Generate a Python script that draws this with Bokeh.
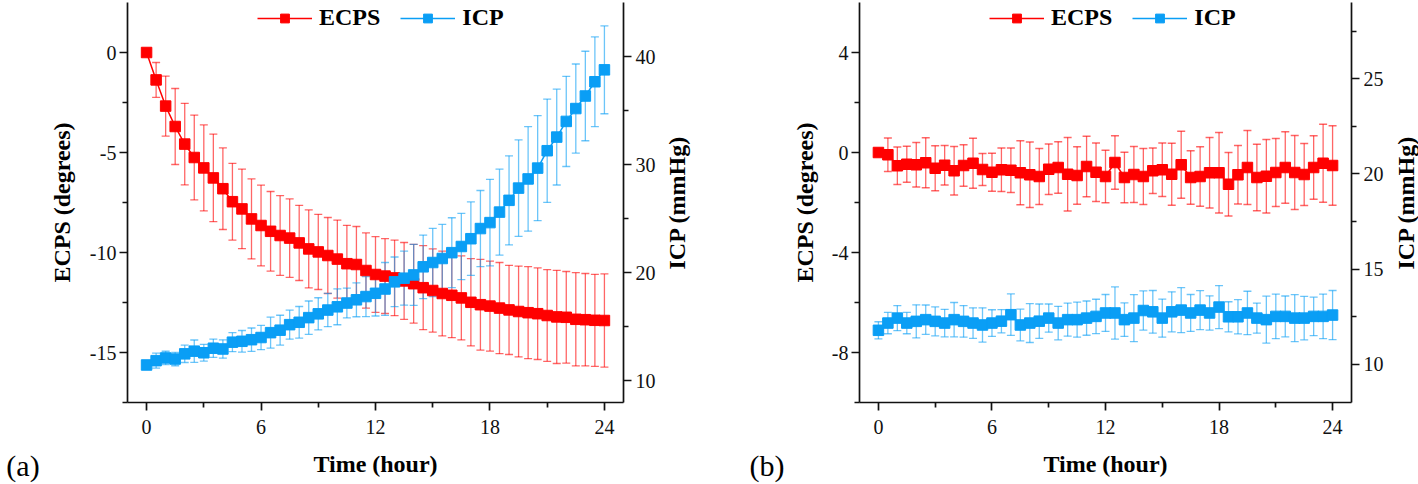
from bokeh.plotting import figure
from bokeh.models import (Range1d, LinearAxis, FixedTicker, Whisker, TeeHead,
                          ColumnDataSource, Legend, LegendItem)
from bokeh.layouts import row
from bokeh.embed import file_html
from bokeh.resources import INLINE

# ---------------- data ----------------
hours = [0, 0.5, 1, 1.5, 2, 2.5, 3, 3.5, 4, 4.5, 5, 5.5, 6, 6.5, 7, 7.5, 8, 8.5,
         9, 9.5, 10, 10.5, 11, 11.5, 12, 12.5, 13, 13.5, 14, 14.5, 15, 15.5,
         16, 16.5, 17, 17.5, 18, 18.5, 19, 19.5, 20, 20.5, 21, 21.5, 22, 22.5,
         23, 23.5, 24]

# panel (a)
ecps_a = [0.0, -1.37, -2.68, -3.70, -4.58, -5.25, -5.77, -6.27, -6.81, -7.46,
          -7.82, -8.32, -8.65, -8.94, -9.15, -9.28, -9.52, -9.82, -9.97, -10.15,
          -10.33, -10.56, -10.60, -10.90, -11.10, -11.18, -11.27, -11.42, -11.56,
          -11.76, -11.90, -12.05, -12.14, -12.27, -12.49, -12.61, -12.68, -12.78,
          -12.87, -12.95, -13.01, -13.06, -13.15, -13.22, -13.24, -13.34, -13.36,
          -13.39, -13.40]
ecps_a_err = [0.0, 0.87, 1.50, 1.90, 2.04, 2.12, 2.15, 2.19, 2.04, 1.92, 1.99,
              2.00, 2.02, 1.99, 1.99, 1.96, 1.88, 1.95, 1.88, 1.90, 1.95, 1.92,
              1.90, 1.88, 1.89, 1.87, 1.89, 1.92, 1.97, 2.10, 2.08, 2.12, 2.12,
              2.10, 2.18, 2.27, 2.25, 2.28, 2.23, 2.27, 2.30, 2.29, 2.29, 2.33,
              2.29, 2.33, 2.31, 2.30, 2.33]
icp_a = [11.47, 11.87, 12.12, 12.02, 12.50, 12.75, 12.60, 13.02, 12.95, 13.58,
         13.66, 13.81, 14.01, 14.46, 14.69, 15.20, 15.42, 15.85, 16.20, 16.55,
         16.85, 17.20, 17.50, 17.80, 18.10, 18.50, 19.16, 19.50, 19.80, 20.55,
         20.95, 21.32, 21.86, 22.43, 23.15, 24.09, 24.64, 25.61, 26.70, 27.83,
         28.68, 29.68, 31.29, 32.55, 34.00, 35.19, 36.35, 37.67, 38.77]
icp_a_err = [0.40, 0.69, 0.62, 0.62, 0.80, 1.03, 0.77, 0.85, 0.85, 0.88, 1.00,
             1.08, 1.12, 1.43, 1.38, 1.34, 1.46, 1.54, 1.49, 1.54, 1.66, 1.38,
             1.57, 1.85, 2.10, 2.45, 2.30, 2.50, 2.82, 2.94, 3.15, 3.15, 3.23,
             3.06, 3.40, 3.52, 4.00, 3.97, 4.12, 4.46, 4.83, 4.86, 4.78, 4.43,
             4.17, 4.12, 4.14, 4.15, 4.06]

# panel (b)
ecps_b = [0.0, -0.09, -0.53, -0.47, -0.49, -0.41, -0.63, -0.51, -0.73, -0.52,
          -0.43, -0.68, -0.79, -0.69, -0.71, -0.81, -0.89, -0.96, -0.67, -0.60,
          -0.87, -0.92, -0.56, -0.79, -0.96, -0.40, -1.00, -0.88, -0.96, -0.73,
          -0.69, -0.87, -0.49, -1.00, -0.96, -0.81, -0.81, -1.27, -0.89, -0.60,
          -1.00, -0.95, -0.80, -0.60, -0.80, -0.88, -0.60, -0.43, -0.52]
ecps_b_err = [0.0, 0.67, 0.75, 0.72, 0.89, 1.00, 0.90, 0.79, 0.97, 0.83, 1.00,
              0.64, 0.76, 0.87, 0.89, 1.28, 1.31, 1.12, 1.01, 1.03, 1.47, 1.15,
              1.21, 1.17, 1.05, 1.07, 1.01, 1.12, 1.12, 0.91, 1.07, 1.24, 1.34,
              1.07, 1.19, 1.41, 1.61, 1.27, 1.17, 1.48, 1.33, 1.47, 1.36, 1.43,
              1.48, 1.24, 1.27, 1.56, 1.59]
icp_b = [11.79, 12.17, 12.43, 12.17, 12.26, 12.35, 12.26, 12.17, 12.35, 12.26,
         12.17, 12.07, 12.17, 12.27, 12.61, 12.07, 12.17, 12.27, 12.43, 12.17,
         12.35, 12.35, 12.43, 12.52, 12.70, 12.70, 12.35, 12.43, 12.83, 12.76,
         12.43, 12.76, 12.85, 12.70, 12.85, 12.70, 13.01, 12.50, 12.50, 12.70,
         12.43, 12.35, 12.52, 12.52, 12.43, 12.43, 12.52, 12.52, 12.59]
icp_b_err = [0.45, 0.56, 0.66, 0.56, 0.87, 0.77, 0.76, 0.72, 0.90, 0.83, 0.80,
             0.90, 0.70, 0.61, 1.09, 0.83, 1.02, 0.90, 0.74, 0.88, 0.87, 0.92,
             0.90, 0.90, 0.97, 1.37, 0.88, 1.23, 1.03, 1.12, 1.00, 1.05, 1.18,
             0.97, 1.02, 0.90, 1.13, 0.79, 0.90, 1.14, 0.79, 1.23, 1.17, 1.07,
             1.23, 1.14, 1.01, 1.17, 1.29]

x_ticks = [0, 6, 12, 18, 24]
x_minor = [3, 9, 15, 21]

# ---------------- style ----------------
FONT = "Liberation Serif"
RED = "#FF0000"
BLUE = "#0A9EF5"
AXC = "#111111"
H = 484
TOP, BOTTOM = 2, 81


def style_axis(ax, ticks, minor, standoff):
    ax.ticker = FixedTicker(ticks=ticks, minor_ticks=minor)
    ax.major_label_overrides = {t: ("%g" % t) for t in ticks}
    ax.axis_line_color = AXC
    ax.axis_line_width = 1.7
    ax.major_tick_line_color = AXC
    ax.major_tick_line_width = 1.7
    ax.minor_tick_line_color = AXC
    ax.minor_tick_line_width = 1.7
    ax.major_tick_in = 0
    ax.major_tick_out = 8
    ax.minor_tick_in = 0
    ax.minor_tick_out = 5
    ax.major_label_text_font = FONT
    ax.major_label_text_font_size = "20px"
    ax.major_label_text_color = "#111111"
    ax.major_label_standoff = standoff
    ax.axis_label_text_font = FONT
    ax.axis_label_text_font_style = "bold"
    ax.axis_label_text_font_size = "24px"
    ax.axis_label_text_color = "#000000"


def label_only_axis(ax, text, size, style, standoff):
    ax.ticker = FixedTicker(ticks=[], minor_ticks=[])
    ax.axis_line_color = None
    ax.major_tick_line_color = None
    ax.minor_tick_line_color = None
    ax.major_tick_out = 0
    ax.minor_tick_out = 0
    ax.major_label_standoff = 0
    ax.axis_label = text
    ax.axis_label_text_font = FONT
    ax.axis_label_text_font_size = size
    ax.axis_label_text_font_style = style
    ax.axis_label_text_color = "#000000"
    ax.axis_label_standoff = standoff


def add_series(p, y, err, color, range_name):
    src = ColumnDataSource(dict(t=hours, y=y,
                                up=[a + b for a, b in zip(y, err)],
                                lo=[a - b for a, b in zip(y, err)]))
    kw = {} if range_name is None else {"y_range_name": range_name}
    w = Whisker(base="t", upper="up", lower="lo", source=src, dimension="height",
                line_color=color, line_alpha=0.6, line_width=1.3,
                upper_head=TeeHead(size=8, line_color=color, line_alpha=0.6, line_width=1.3),
                lower_head=TeeHead(size=8, line_color=color, line_alpha=0.6, line_width=1.3),
                level="underlay", **kw)
    p.add_layout(w)
    ln = p.line("t", "y", source=src, line_color=color, line_width=1.5, **kw)
    sc = p.scatter("t", "y", source=src, marker="square", size=10.5,
                   fill_color=color, line_color=color, **kw)
    return ln, sc


def make_side(width, border_left, below_text=None, left_text=None, left_standoff=0):
    t = figure(width=width, height=H, x_range=Range1d(0, 1), y_range=Range1d(0, 1),
               output_backend="svg", toolbar_location=None,
               x_axis_location="below" if below_text else None,
               y_axis_location="left" if left_text else None,
               min_border_left=border_left, min_border_right=0,
               min_border_top=TOP, min_border_bottom=BOTTOM)
    t.outline_line_color = None
    t.xgrid.visible = False
    t.ygrid.visible = False
    if below_text:
        label_only_axis(t.xaxis[0], below_text, "30px", "normal", 46)
    if left_text:
        label_only_axis(t.yaxis[0], left_text, "24px", "bold", left_standoff)
    return t


def make_panel(width, border_left, border_right, left_label_standoff,
               ecps, ecps_err, icp, icp_err,
               left_range, right_range,
               lticks, lminor, rticks, rminor):
    p = figure(width=width, height=H,
               x_range=Range1d(-1, 25), y_range=Range1d(*left_range),
               output_backend="svg", toolbar_location=None,
               min_border_left=border_left, min_border_right=border_right,
               min_border_top=TOP, min_border_bottom=BOTTOM)
    p.extra_y_ranges = {"icp": Range1d(*right_range)}
    p.outline_line_color = None
    p.xgrid.visible = False
    p.ygrid.visible = False

    style_axis(p.xaxis[0], x_ticks, x_minor, 9)
    p.xaxis[0].axis_label = "Time (hour)"
    p.xaxis[0].axis_label_standoff = 14

    style_axis(p.yaxis[0], lticks, lminor, 3)
    p.yaxis[0].axis_label = "ECPS (degrees)"
    p.yaxis[0].axis_label_standoff = left_label_standoff

    rax = LinearAxis(y_range_name="icp")
    style_axis(rax, rticks, rminor, 4)
    p.add_layout(rax, "right")

    l1, s1 = add_series(p, ecps, ecps_err, RED, None)
    l2, s2 = add_series(p, icp, icp_err, BLUE, "icp")

    legend = Legend(items=[LegendItem(label="ECPS", renderers=[l1, s1]),
                           LegendItem(label="ICP", renderers=[l2, s2])],
                    orientation="horizontal", location=(130, 371),
                    label_text_font=FONT, label_text_font_style="bold",
                    label_text_font_size="24px", label_text_color="#000000",
                    glyph_width=55, glyph_height=22, label_height=24,
                    label_standoff=7, spacing=20, padding=0, margin=0,
                    border_line_color=None, background_fill_alpha=0)
    p.add_layout(legend)
    return p


side_a = make_side(45, 0, below_text="(a)")
pa = make_panel(615, 80, 37, 12, ecps_a, ecps_a_err, icp_a, icp_a_err,
                (-17.5, 2.5), (8, 45),
                [-15, -10, -5, 0], [-17.5, -12.5, -7.5, -2.5],
                [10, 20, 30, 40], [15, 25, 35])
side_b = make_side(128, 85, below_text="(b)", left_text="ICP (mmHg)", left_standoff=56)
pb = make_panel(602, 66, 39, 11, ecps_b, ecps_b_err, icp_b, icp_b_err,
                (-10, 6), (8, 29),
                [-8, -4, 0, 4], [-10, -6, -2, 2],
                [10, 15, 20, 25], [12.5, 17.5, 22.5, 27.5])
side_c = make_side(28, 27, left_text="ICP (mmHg)", left_standoff=0)

layout = row(side_a, pa, side_b, pb, side_c)
open("out.html", "w").write(file_html(layout, INLINE))
